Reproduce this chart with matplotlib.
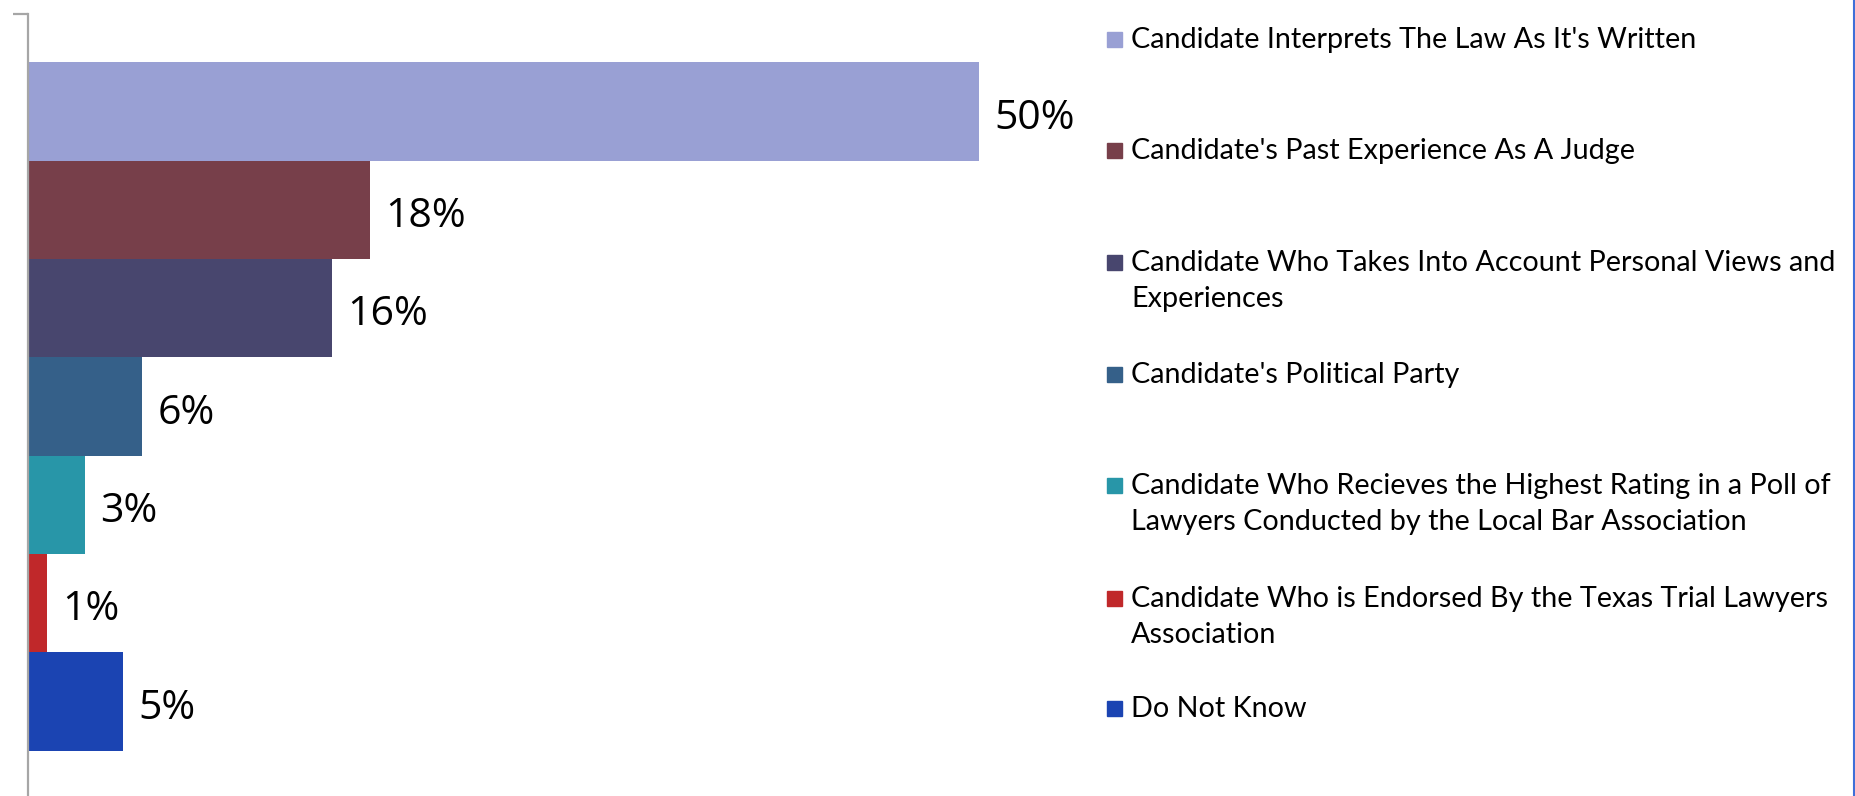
import matplotlib.pyplot as plt
from matplotlib.lines import Line2D
from matplotlib.patches import Rectangle

labels = [
    "Candidate Interprets The Law As It's Written",
    "Candidate's Past Experience As A Judge",
    "Candidate Who Takes Into Account Personal Views and\nExperiences",
    "Candidate's Political Party",
    "Candidate Who Recieves the Highest Rating in a Poll of\nLawyers Conducted by the Local Bar Association",
    "Candidate Who is Endorsed By the Texas Trial Lawyers\nAssociation",
    "Do Not Know",
]
values = [50, 18, 16, 6, 3, 1, 5]
colors = ["#99A0D4", "#773F4A", "#48466E", "#356089", "#2896A8", "#C0282A", "#1B44B2"]

W, H = 1856, 796
fig = plt.figure(figsize=(W / 100, H / 100), dpi=100)

# axes placed in pixel terms: left spine at x=28, top at y=14
px = 19.02  # pixels per percent
ax_left, ax_right = 28, 1090
ax = fig.add_axes([ax_left / W, 0, (ax_right - ax_left) / W, (H - 14) / H])
pos = list(range(len(values)))
ax.barh(pos, values, height=1.0, color=colors, edgecolor="none")
ax.set_xlim(0, (ax_right - ax_left) / px)
ax.set_ylim(6.96, -0.99)

for p, v in zip(pos, values):
    ax.annotate(f"{v}%", (v, p), xytext=(11, -5), textcoords="offset points",
                ha="left", va="center", fontsize=29.5, family="Open Sans")

for s in ["top", "right", "bottom"]:
    ax.spines[s].set_visible(False)
ax.spines["left"].set_color("#A6A6A6")
ax.spines["left"].set_linewidth(1.6)
ax.set_xticks([])
ax.set_yticks([-0.99])
ax.set_yticklabels([""])
ax.tick_params(axis="y", direction="out", length=11, width=1.6, color="#A6A6A6")

# legend drawn by hand, one entry per category
row_y = [39, 150, 262, 374, 485, 598, 708]
for lab, c, y in zip(labels, colors, row_y):
    fig.patches.append(Rectangle((1107 / W, 1 - (y + 8) / H), 15 / W, 15 / H,
                                 transform=fig.transFigure, color=c))
    fig.text(1131 / W, 1 - (y - 12) / H, lab, ha="left", va="top",
             fontsize=20.7, family="Lato", linespacing=1.47)

fig.add_artist(Line2D([1854 / W, 1854 / W], [0, 1], transform=fig.transFigure,
                      color="#3F6FD8", linewidth=1.5))

fig.savefig("out.png", dpi=100)
